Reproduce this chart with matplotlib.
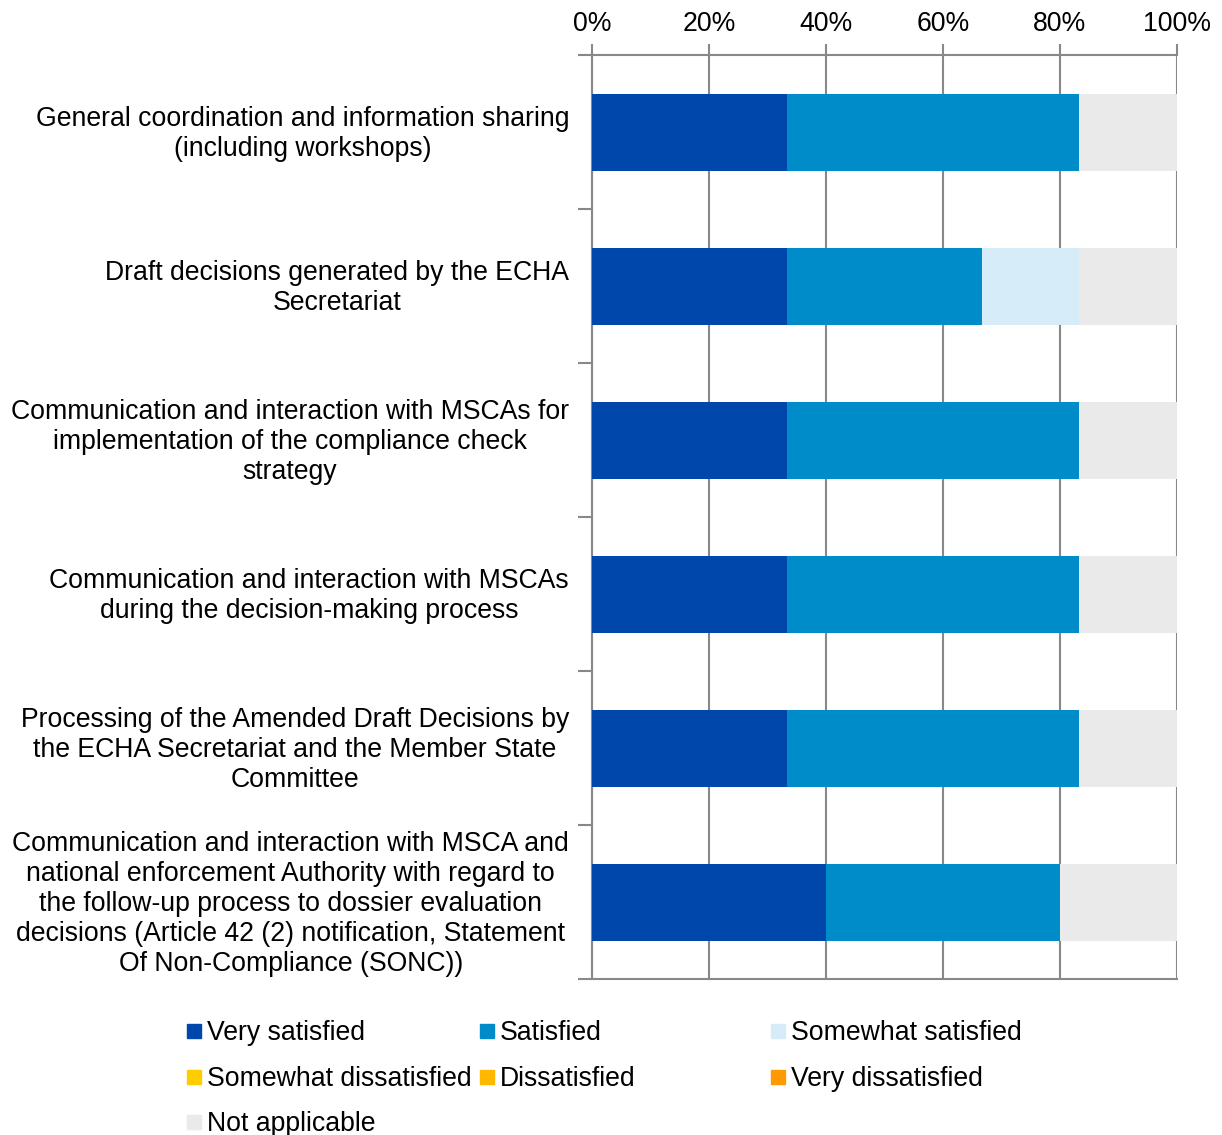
import numpy as np
import matplotlib
matplotlib.use("Agg")
import matplotlib.pyplot as plt
import matplotlib.transforms as mtransforms
from matplotlib.patches import Rectangle

plt.rcParams['font.family'] = ['Liberation Sans', 'DejaVu Sans']

categories = [
    "General coordination and information sharing\n(including workshops)",
    "Draft decisions generated by the ECHA\nSecretariat",
    "Communication and interaction with MSCAs for\nimplementation of the compliance check\nstrategy",
    "Communication and interaction with MSCAs\nduring the decision-making process",
    "Processing of the Amended Draft Decisions by\nthe ECHA Secretariat and the Member State\nCommittee",
    "Communication and interaction with MSCA and\nnational enforcement Authority with regard to\nthe follow-up process to dossier evaluation\ndecisions (Article 42 (2) notification, Statement\nOf Non-Compliance (SONC))",
]
series = ["Very satisfied", "Satisfied", "Somewhat satisfied",
          "Somewhat dissatisfied", "Dissatisfied", "Very dissatisfied",
          "Not applicable"]
very_satisfied = [33.3, 33.3, 33.3, 33.3, 33.3, 40.0]
satisfied = [50.0, 33.3, 50.0, 50.0, 50.0, 40.0]
somewhat_satisfied = [0, 16.7, 0, 0, 0, 0]
somewhat_dissatisfied = [0, 0, 0, 0, 0, 0]
dissatisfied = [0, 0, 0, 0, 0, 0]
very_dissatisfied = [0, 0, 0, 0, 0, 0]
not_applicable = [16.7, 16.7, 16.7, 16.7, 16.7, 20.0]
colors = ["#0047AB", "#008BC9", "#D6ECF8", "#FFCC00", "#FFB800", "#FF9900", "#EAEAEA"]

values = [very_satisfied, satisfied, somewhat_satisfied, somewhat_dissatisfied,
          dissatisfied, very_dissatisfied, not_applicable]

fs = 19.2

fig = plt.figure(figsize=(12.22, 11.35), dpi=100)
ax = fig.add_axes([592 / 1222, 1 - 979 / 1135, 585 / 1222, 924 / 1135])

y = np.arange(len(categories))
left = np.zeros(len(categories))
for name, vals, c in zip(series, values, colors):
    vals = np.array(vals)
    ax.barh(y, vals, left=left, height=0.5, color=c, label=name, zorder=3)
    left += vals

ax.set_xlim(0, 100)
ax.set_ylim(len(categories) - 0.5, -0.5)
ax.set_xticks(np.arange(0, 101, 20))
ax.set_xticklabels([f"{v}%" for v in range(0, 101, 20)], fontsize=fs)
ax.xaxis.tick_top()
ax.tick_params(axis='x', direction='out', length=8, width=1.5, color='#888888', pad=5)
ax.grid(axis='x', color='#888888', linewidth=1.5, zorder=0)

ax.set_yticks(y)
ax.set_yticklabels(categories, fontsize=fs, multialignment='center')
ax.set_yticks(np.arange(-0.5, len(categories)), minor=True)
ax.tick_params(axis='y', which='major', length=0, pad=16.5)
ax.tick_params(axis='y', which='minor', length=10, width=1.5, color='#888888')

# nudge category labels up a little
shift = mtransforms.ScaledTranslation(0, 3 / 100, fig.dpi_scale_trans)
for lbl in ax.get_yticklabels():
    lbl.set_transform(lbl.get_transform() + shift)

for s in ['left', 'top', 'bottom', 'right']:
    ax.spines[s].set_color('#888888')
    ax.spines[s].set_linewidth(1.5)
ax.spines['right'].set_visible(False)

# legend in a fixed grid, three columns
col_x = [187, 480, 771]
row_y = [1031, 1077, 1122]
for i, (name, c) in enumerate(zip(series, colors)):
    r, k = divmod(i, 3)
    x0 = col_x[k] / 1222
    y0 = 1 - row_y[r] / 1135
    fig.add_artist(Rectangle((x0, y0 - 7 / 1135), 14 / 1222, 14 / 1135,
                             transform=fig.transFigure, color=c))
    fig.text(x0 + 20 / 1222, y0 - 2 / 1135, name, fontsize=fs, va='center', ha='left')

fig.savefig("out.png", dpi=100)
